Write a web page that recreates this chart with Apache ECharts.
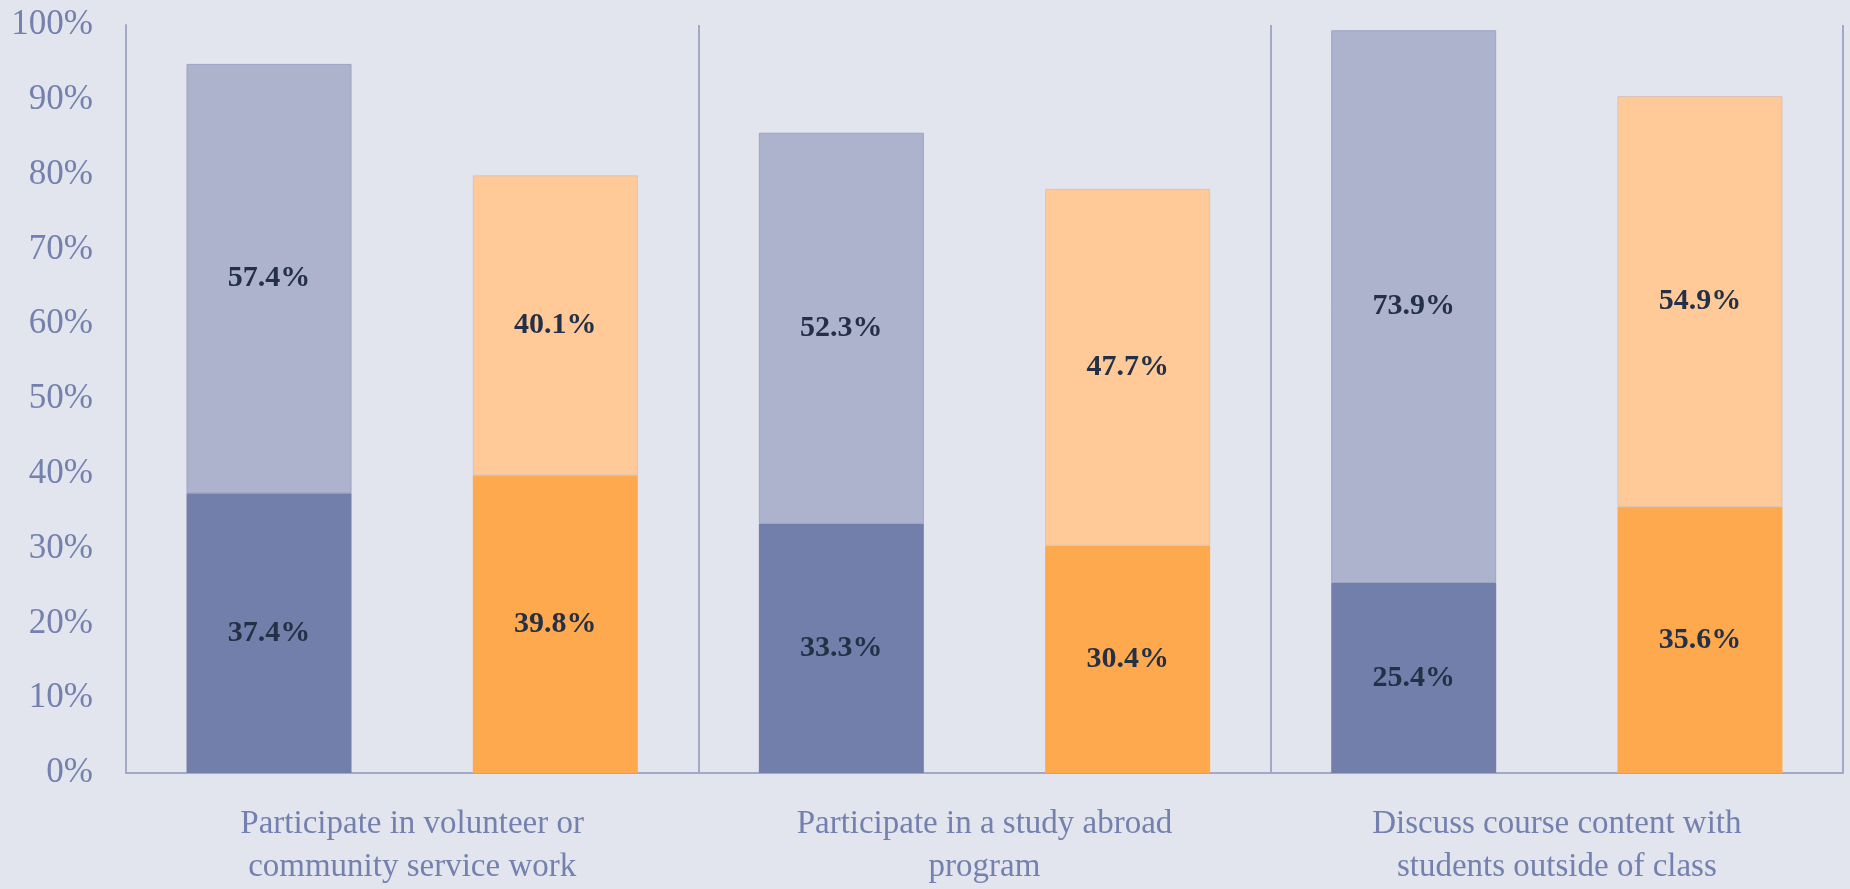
<!DOCTYPE html>
<html>
<head>
<meta charset="utf-8">
<script src="https://cdn.jsdelivr.net/npm/echarts@6/dist/echarts.min.js"></script>
<style>
html,body{margin:0;padding:0;background:#E2E5ED;overflow:hidden;}
#c{width:1850px;height:889px;}
</style>
</head>
<body>
<div id="c"></div>
<script>
var categories = [
  "Participate in volunteer or\ncommunity service work",
  "Participate in a study abroad\nprogram",
  "Discuss course content with\nstudents outside of class"
];
var blueDark = [37.4, 33.3, 25.4];
var blueLight = [57.4, 52.3, 73.9];
var orangeDark = [39.8, 30.4, 35.6];
var orangeLight = [40.1, 47.7, 54.9];

var serif = "'Liberation Serif', 'DejaVu Serif', serif";
var labelStyle = {
  show: true,
  position: 'inside',
  fontFamily: serif,
  fontWeight: 'bold',
  fontSize: 30,
  color: '#243046',
  formatter: function (p) { return p.value.toFixed(1) + '%'; }
};

var chart = echarts.init(document.getElementById('c'));
chart.setOption({
  backgroundColor: '#E2E5ED',
  animation: false,
  grid: { left: 126, right: 7, top: 25, bottom: 109, containLabel: false },
  xAxis: {
    type: 'category',
    data: categories,
    axisLine: { show: true, lineStyle: { color: '#A3A8C4', width: 2 } },
    axisTick: { show: false },
    splitLine: { show: true, lineStyle: { color: '#A3A8C4', width: 2 } },
    axisLabel: {
      fontFamily: serif,
      fontSize: 33,
      color: '#7480AE',
      lineHeight: 43,
      margin: 30
    }
  },
  yAxis: {
    type: 'value',
    min: 0,
    max: 100,
    interval: 10,
    axisLine: { show: true, lineStyle: { color: '#A3A8C4', width: 2 } },
    axisTick: { show: false },
    splitLine: { show: false },
    axisLabel: {
      fontFamily: serif,
      fontSize: 35,
      color: '#7480AE',
      margin: 33,
      padding: [5, 0, 0, 0],
      formatter: '{value}%'
    }
  },
  series: [
    { name: 'A base', type: 'bar', stack: 'a', data: blueDark, barWidth: 165, barGap: '73.5%',
      itemStyle: { color: '#737FAB' }, label: labelStyle },
    { name: 'A top', type: 'bar', stack: 'a', data: blueLight,
      itemStyle: { color: '#ADB2CD', borderColor: '#9DA3C3', borderWidth: 1 }, label: labelStyle },
    { name: 'B base', type: 'bar', stack: 'b', data: orangeDark, barWidth: 165,
      itemStyle: { color: '#FFA94F' }, label: labelStyle },
    { name: 'B top', type: 'bar', stack: 'b', data: orangeLight,
      itemStyle: { color: '#FFCA98', borderColor: '#D9C3B8', borderWidth: 1 }, label: labelStyle }
  ]
});
</script>
</body>
</html>
